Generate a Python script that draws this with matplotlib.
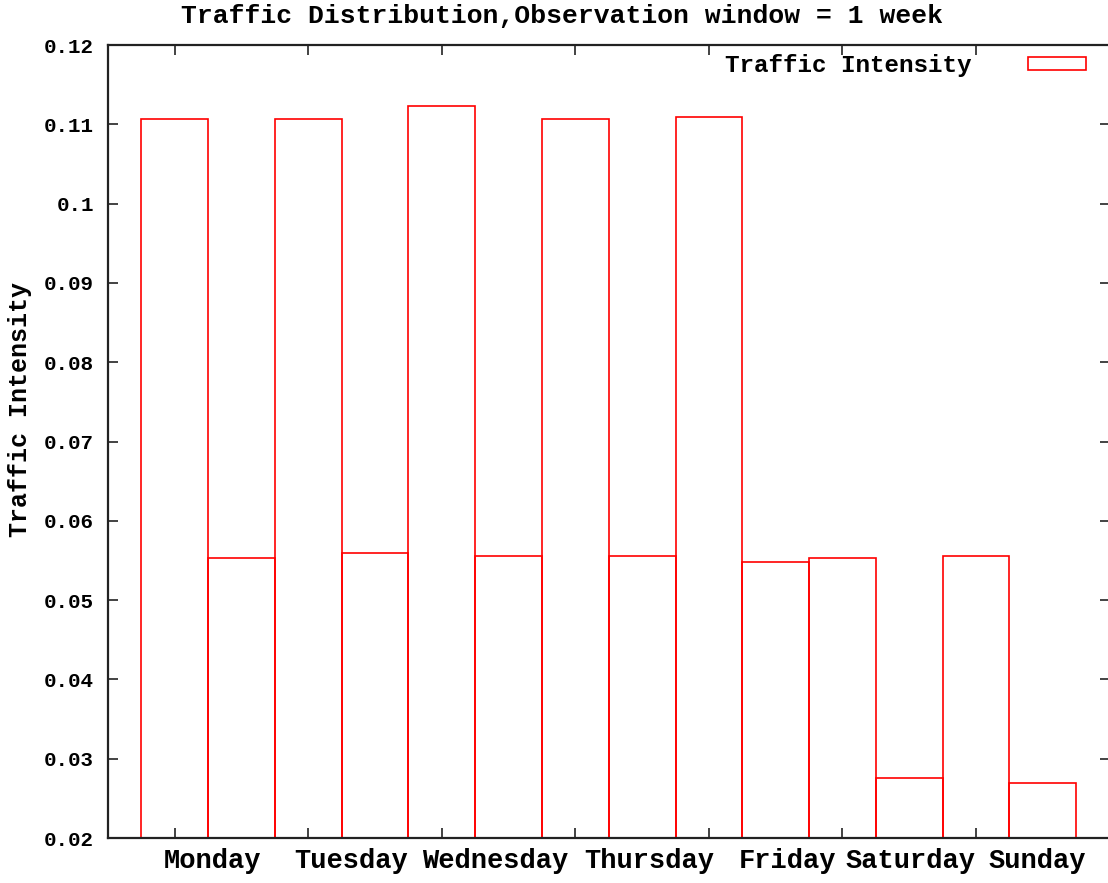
import numpy as np
import matplotlib
matplotlib.use('Agg')
import matplotlib.pyplot as plt

# two samples per day, half a day wide each
days = ['Monday', 'Tuesday', 'Wednesday', 'Thursday', 'Friday', 'Saturday', 'Sunday']
intensity = [0.1107, 0.0553, 0.1107, 0.0560, 0.1123, 0.0556, 0.1107,
             0.0556, 0.1109, 0.0548, 0.0553, 0.0276, 0.0556, 0.0269]
# where each day name sits along the axis (in days)
day_label_pos = [0.28, 1.32, 2.40, 3.55, 4.59, 5.51, 6.46]
yticks = [0.02, 0.03, 0.04, 0.05, 0.06, 0.07, 0.08, 0.09, 0.10, 0.11, 0.12]

plt.rcParams['font.family'] = ['Liberation Mono', 'DejaVu Sans Mono']
plt.rcParams['font.weight'] = 'bold'
plt.rcParams['axes.labelweight'] = 'bold'

fig = plt.figure(figsize=(11.08, 8.83), dpi=100)
ax = fig.add_axes([108 / 1108, 1 - 838 / 883, 1001.5 / 1108, 793 / 883])

xpos = np.arange(len(intensity)) * 0.5
ax.bar(xpos, intensity, width=0.5, bottom=0, fill=False,
       edgecolor='#ff0000', linewidth=1.2, label='Traffic Intensity')

ax.set_xlim(-0.5, 7.0)
ax.set_ylim(0.02, 0.12)

ax.set_yticks(yticks, labels=[f'{v:g}' for v in yticks])
ax.set_xticks(range(len(days)), labels=[''] * len(days))
ax.set_xticks(day_label_pos, labels=days, minor=True)

ax.tick_params(which='major', direction='in', length=7, width=1.2,
               top=True, right=True, color='#222222')
ax.tick_params(axis='y', labelsize=15, pad=10)
ax.tick_params(axis='x', which='minor', length=0, labelsize=19.5, pad=7)

for s in ax.spines.values():
    s.set_linewidth(1.6)
    s.set_color('#222222')

ax.set_ylabel('Traffic Intensity', fontsize=18, va='center')
ax.yaxis.set_label_coords(-0.088, 0.54)

fig.suptitle('Traffic Distribution,Observation window = 1 week',
             x=0.507, y=0.982, va='center', fontsize=19, fontweight='bold')

ax.legend(loc='upper right', bbox_to_anchor=(1086 / 1108, 1 - 54 / 883),
          bbox_transform=fig.transFigure, frameon=False, markerfirst=False,
          fontsize=17.5, handlelength=2.4, handleheight=0.45,
          handletextpad=2.3, borderpad=0, borderaxespad=0)

fig.savefig('out.png', dpi=100)
